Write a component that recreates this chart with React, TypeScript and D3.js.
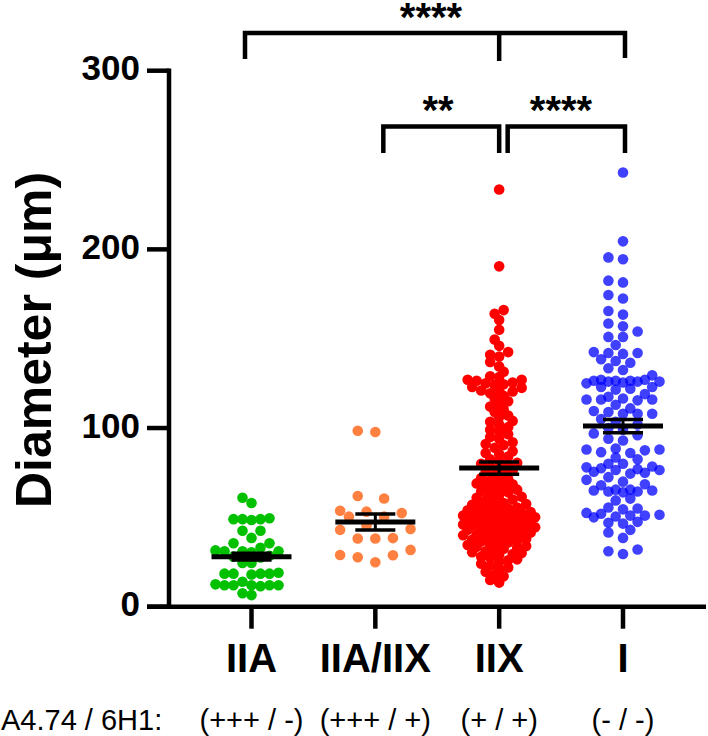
import React from 'react';
import * as d3 from 'd3';

const categories = ['IIA', 'IIA/IIX', 'IIX', 'I'];
const markerLabels = ['(+++ / -)', '(+++ / +)', '(+ / +)', '(- / -)'];
const markerTitle = 'A4.74 / 6H1:';
const colors = ['#00c000', '#ff8040', '#ff0000', '#0000ff'];
const opacities = [1, 1, 1, 0.75];
const yTicks = [0, 100, 200, 300];
const means = [28.0, 47.4, 77.6, 101.1];
const sems = [1.9, 4.5, 3.4, 3.7];

const valuesIIA = [
  61, 58, 49.5, 49, 49, 48.5, 49, 42.5, 42.5, 38.5, 35.5, 35.5, 33, 31.5, 31, 31, 30.5, 31,
  28.5, 28, 27.5, 24.5, 24.5, 19, 18.5, 18.5, 18.5, 18.5, 18, 14, 12, 12, 12.5, 12, 12, 11.5, 12,
  7.5, 6.5,
];

const valuesIIAIIX = [
  97.8, 98.5, 60.6, 62, 53.7, 53.2, 52.4, 50.4, 50.4, 43.5, 45.4, 43, 38.2, 38.2, 38.4, 31.8,
  27.7, 28.8, 28.9, 24.9,
];

const valuesIIX = [
  233.5, 190.5,
  166, 164, 160.5, 155, 149.5, 146, 142.5, 141, 140, 137, 134.5, 131.5,
  129, 128.5, 127, 127, 126.5, 125.5, 125, 124.5, 124, 123, 122.5, 121, 121, 120.5, 119.5,
  118, 116.5, 115, 113.5, 112, 110.5, 109, 107, 106, 104, 103.5, 102, 100.5, 99,
  98, 96.5, 95, 94, 92, 91, 90.5, 89, 87, 86, 85.5, 84, 82.5, 81.5, 80.5, 80,
  79, 78.5, 77.5, 76, 75.5, 74.5, 73.5, 72, 71.5, 70.5, 70, 69, 68.5, 67.5, 67, 66,
  65.5, 64.5, 64, 63, 62.5, 61.5, 61, 60, 59.5, 59, 58, 57.5, 57, 56.5, 56, 55.5, 55, 54.5, 54,
  53.5, 53, 53, 52.5, 52, 52, 51.5, 51, 51, 50.5, 50, 50, 49.5, 49, 49, 48.5, 48, 48, 47.5, 47,
  47, 46.5, 46, 45.5, 45.5, 45, 44.5, 44, 44, 43.5, 43, 42.5, 42, 42, 41.5, 41, 40.5, 40, 40,
  39.5, 39, 38.5, 38, 37.5, 37, 36.5, 36, 35.5, 35, 34.5, 34, 33.5, 33, 32.5, 32, 31, 30.5,
  30, 29.5, 29, 28, 27.5, 26.5, 26, 25, 24, 23, 22, 21, 19.5, 18, 17, 15, 13.5,
];

const valuesI = [
  243, 204.5, 195.5, 194.5, 182.5, 181.5, 174.5, 172.5, 165.5, 163.5, 158.5, 157, 154, 151, 151,
  146.5, 142.5, 142, 142, 141.5, 138.5, 137.5, 136.5, 133.5, 132.5, 129.5, 127, 127, 126.5, 126.5,
  126, 126.5, 126,
  125.5, 123, 125, 126, 123, 121.5, 122, 119, 117.5, 116, 116, 116.5, 116, 115.5, 113, 111, 109.5,
  109, 108, 108, 108, 105, 103.5, 102, 100, 99, 97, 96, 94, 93, 88, 86, 83.5, 88.5, 87.5, 88, 86.5,
  82.5, 80, 78.5, 80, 75, 76.5, 77.5, 77, 76.5, 75.5, 78, 74.5, 72.5, 71, 70, 68.5, 68, 65.5,
  64.5, 64.5, 65, 65, 65.5, 64, 60.5, 59.5, 55.5, 55, 54.5, 51, 50.5, 50, 51.5, 52.5, 52, 51,
  46.5, 47, 47.5, 43, 41.5, 38.5, 32, 31, 29.5,
];

const groups = [valuesIIA, valuesIIAIIX, valuesIIX, valuesI];
// swarm parameters per group
const swarmSteps = [9, 8.8, 4.5, 7.3];
const swarmDists = [9, 16, 6.8, 9.5];

const W = 708;
const H = 736;
const FONT = '"Liberation Sans", Arial, Helvetica, sans-serif';

const y = d3.scaleLinear().domain([0, 300]).range([606.7, 70.7]);
const x = d3.scalePoint<string>().domain(categories).range([251.5, 623]);
const AXIS_X = 169;

function swarm(vals: number[], step: number, minDist: number, maxOff: number): number[] {
  const order = vals.map((_, i) => i).sort((a, b) => vals[a] - vals[b]);
  const placed: { x: number; y: number }[] = [];
  const xs: number[] = new Array(vals.length).fill(0);
  const cands: number[] = [0];
  for (let k = 1; k * step <= maxOff + 0.01; k++) cands.push(-k * step, k * step);
  for (const i of order) {
    const py = y(vals[i]);
    let best = 0;
    let bestScore = -Infinity;
    for (const c of cands) {
      let md = Infinity;
      for (const p of placed) {
        if (Math.abs(p.y - py) < minDist) {
          const d = Math.hypot(p.x - c, p.y - py);
          if (d < md) md = d;
        }
      }
      if (md >= minDist) {
        best = c;
        bestScore = Infinity;
        break;
      }
      if (md > bestScore) {
        bestScore = md;
        best = c;
      }
    }
    xs[i] = best;
    placed.push({ x: best, y: py });
  }
  return xs;
}

export default function App() {
  const offsets = groups.map((g, gi) => swarm(g, swarmSteps[gi], swarmDists[gi], 37));
  const lw = 4.5;
  const xc = categories.map((c) => x(c) as number);

  return (
    <svg
      width={W}
      height={H}
      viewBox={`0 0 ${W} ${H}`}
      style={{ position: 'absolute', left: 0, top: 0, background: '#fff' }}
      fontFamily={FONT}
    >
      {groups.map((g, gi) => (
        <g key={gi} fill={colors[gi]} fillOpacity={opacities[gi]}>
          {g.map((v, i) => (
            <circle key={i} cx={xc[gi] + offsets[gi][i]} cy={y(v)} r={5.3} />
          ))}
        </g>
      ))}

      {means.map((m, gi) => (
        <g key={gi} stroke="#000" fill="none">
          <line x1={xc[gi] - 40} x2={xc[gi] + 40} y1={y(m)} y2={y(m)} strokeWidth={5} />
          <line x1={xc[gi]} x2={xc[gi]} y1={y(m - sems[gi])} y2={y(m + sems[gi])} strokeWidth={3} />
          <line x1={xc[gi] - 20} x2={xc[gi] + 20} y1={y(m + sems[gi])} y2={y(m + sems[gi])} strokeWidth={3.5} />
          <line x1={xc[gi] - 20} x2={xc[gi] + 20} y1={y(m - sems[gi])} y2={y(m - sems[gi])} strokeWidth={3.5} />
        </g>
      ))}

      <g stroke="#000" strokeWidth={lw} fill="none">
        <line x1={AXIS_X} x2={AXIS_X} y1={y(300) - lw / 2} y2={y(0)} />
        {yTicks.map((t) => (
          <line key={t} x1={AXIS_X - 22} x2={AXIS_X} y1={y(t)} y2={y(t)} />
        ))}
        <line x1={AXIS_X - 22} x2={706} y1={y(0)} y2={y(0)} />
        {xc.map((cx, i) => (
          <line key={i} x1={cx} x2={cx} y1={y(0)} y2={y(0) + 22} />
        ))}
      </g>
      {yTicks.map((t) => (
        <text key={t} x={140} y={y(t) + 9.5} textAnchor="end" fontSize={35} fontWeight="bold">
          {t}
        </text>
      ))}
      {categories.map((c, i) => (
        <text key={c} x={xc[i]} y={672} textAnchor="middle" fontSize={40} fontWeight="bold">
          {c}
        </text>
      ))}
      <text x={1} y={730} fontSize={29}>
        {markerTitle}
      </text>
      {markerLabels.map((c, i) => (
        <text key={c} x={xc[i]} y={730} textAnchor="middle" fontSize={29} xmlSpace="preserve">
          {c}
        </text>
      ))}
      <text
        transform={`translate(51,340) rotate(-90)`}
        textAnchor="middle"
        fontSize={50}
        fontWeight="bold"
      >
        Diameter (μm)
      </text>

      <g stroke="#000" strokeWidth={lw} fill="none" strokeLinejoin="miter">
        <path d={`M${xc[0] - 6.5},59 V33 H${xc[3] + 2} V58`} />
        <path d={`M${xc[2]},33 V61`} />
        <path d={`M${xc[1] + 8},153 V126.5 H${xc[2]} V153`} />
        <path d={`M${xc[2] + 8.5},153 V126.5 H${xc[3] + 2} V153`} />
      </g>
      <text x={431} y={31} textAnchor="middle" fontSize={40} fontWeight="bold">****</text>
      <text x={438} y={124} textAnchor="middle" fontSize={40} fontWeight="bold">**</text>
      <text x={561} y={124} textAnchor="middle" fontSize={40} fontWeight="bold">****</text>
    </svg>
  );
}
